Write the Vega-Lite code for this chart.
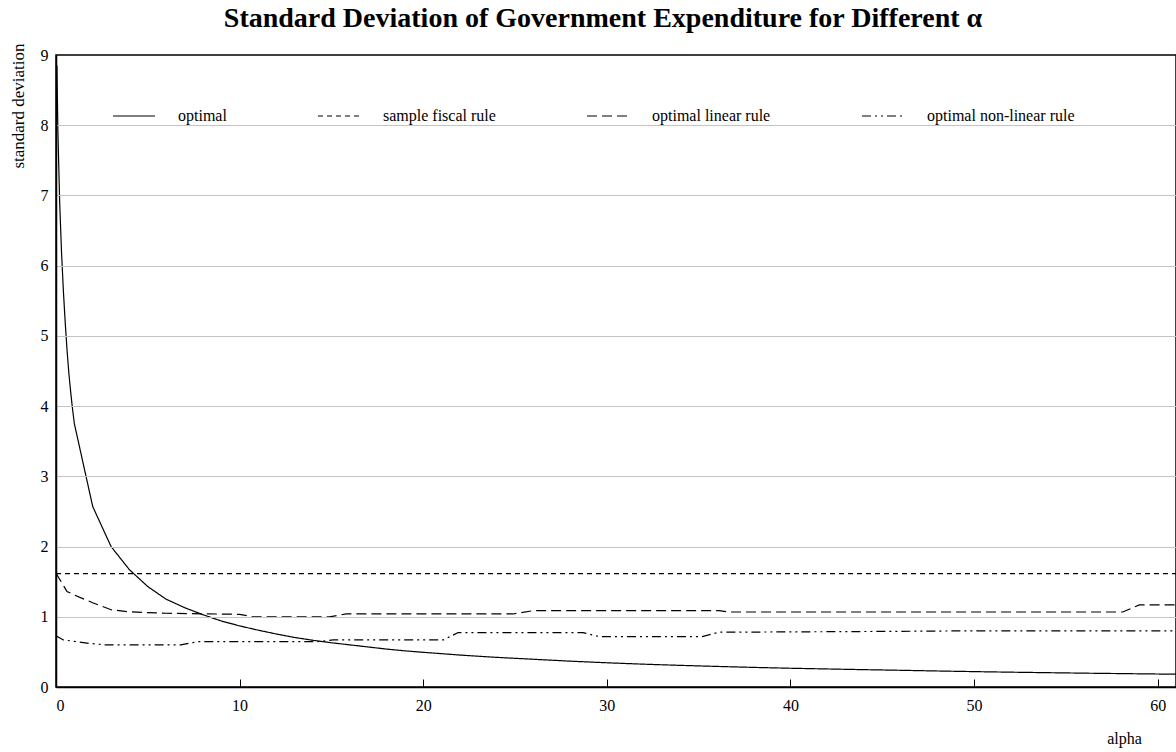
{
  "$schema": "https://vega.github.io/schema/vega-lite/v6.json",
  "width": 1120,
  "height": 632,
  "autosize": {"type": "none"},
  "padding": {"left": 56, "top": 55, "right": 0, "bottom": 65},
  "background": "white",
  "config": {
    "font": "Liberation Serif",
    "view": {"stroke": "black", "strokeWidth": 1.5},
    "axis": {"labelFont": "Liberation Serif", "titleFont": "Liberation Serif", "labelColor": "black", "titleColor": "black", "titleFontWeight": "normal"}
  },
  "title": {
    "text": "Standard Deviation of Government Expenditure for Different α",
    "font": "Liberation Serif",
    "fontSize": 28,
    "fontWeight": "bold",
    "color": "black",
    "frame": "group",
    "anchor": "middle",
    "dx": -13,
    "offset": 10
  },
  "data": {
    "values": [
      {"alpha": 0.05, "series": "optimal", "sd": 8.85},
      {"alpha": 0.1, "series": "optimal", "sd": 7.95},
      {"alpha": 0.2, "series": "optimal", "sd": 6.9},
      {"alpha": 0.3, "series": "optimal", "sd": 6.2},
      {"alpha": 0.4, "series": "optimal", "sd": 5.65},
      {"alpha": 0.5, "series": "optimal", "sd": 5.2},
      {"alpha": 0.6, "series": "optimal", "sd": 4.8},
      {"alpha": 0.7, "series": "optimal", "sd": 4.47},
      {"alpha": 0.8, "series": "optimal", "sd": 4.2},
      {"alpha": 0.9, "series": "optimal", "sd": 3.96},
      {"alpha": 1, "series": "optimal", "sd": 3.75},
      {"alpha": 2, "series": "optimal", "sd": 2.57},
      {"alpha": 3, "series": "optimal", "sd": 2.0},
      {"alpha": 4, "series": "optimal", "sd": 1.67},
      {"alpha": 5, "series": "optimal", "sd": 1.43},
      {"alpha": 6, "series": "optimal", "sd": 1.25},
      {"alpha": 7, "series": "optimal", "sd": 1.13},
      {"alpha": 8, "series": "optimal", "sd": 1.03},
      {"alpha": 9, "series": "optimal", "sd": 0.94},
      {"alpha": 10, "series": "optimal", "sd": 0.87},
      {"alpha": 11, "series": "optimal", "sd": 0.81},
      {"alpha": 12, "series": "optimal", "sd": 0.755},
      {"alpha": 13, "series": "optimal", "sd": 0.705},
      {"alpha": 14, "series": "optimal", "sd": 0.665},
      {"alpha": 15, "series": "optimal", "sd": 0.63},
      {"alpha": 16, "series": "optimal", "sd": 0.6},
      {"alpha": 17, "series": "optimal", "sd": 0.57},
      {"alpha": 18, "series": "optimal", "sd": 0.54},
      {"alpha": 19, "series": "optimal", "sd": 0.515},
      {"alpha": 20, "series": "optimal", "sd": 0.494},
      {"alpha": 22, "series": "optimal", "sd": 0.455},
      {"alpha": 24, "series": "optimal", "sd": 0.422},
      {"alpha": 26, "series": "optimal", "sd": 0.395},
      {"alpha": 28, "series": "optimal", "sd": 0.368},
      {"alpha": 30, "series": "optimal", "sd": 0.345},
      {"alpha": 32, "series": "optimal", "sd": 0.325},
      {"alpha": 34, "series": "optimal", "sd": 0.308},
      {"alpha": 36, "series": "optimal", "sd": 0.293},
      {"alpha": 38, "series": "optimal", "sd": 0.279},
      {"alpha": 40, "series": "optimal", "sd": 0.267},
      {"alpha": 42, "series": "optimal", "sd": 0.257},
      {"alpha": 44, "series": "optimal", "sd": 0.247},
      {"alpha": 46, "series": "optimal", "sd": 0.238},
      {"alpha": 48, "series": "optimal", "sd": 0.228},
      {"alpha": 50, "series": "optimal", "sd": 0.219},
      {"alpha": 52, "series": "optimal", "sd": 0.211},
      {"alpha": 54, "series": "optimal", "sd": 0.204},
      {"alpha": 56, "series": "optimal", "sd": 0.197},
      {"alpha": 58, "series": "optimal", "sd": 0.191},
      {"alpha": 60, "series": "optimal", "sd": 0.185},
      {"alpha": 61, "series": "optimal", "sd": 0.182},

      {"alpha": 0, "series": "sample fiscal rule", "sd": 1.615},
      {"alpha": 61, "series": "sample fiscal rule", "sd": 1.615},

      {"alpha": 0, "series": "optimal linear rule", "sd": 1.62},
      {"alpha": 0.6, "series": "optimal linear rule", "sd": 1.36},
      {"alpha": 1, "series": "optimal linear rule", "sd": 1.31},
      {"alpha": 2, "series": "optimal linear rule", "sd": 1.2},
      {"alpha": 3, "series": "optimal linear rule", "sd": 1.1},
      {"alpha": 4, "series": "optimal linear rule", "sd": 1.07},
      {"alpha": 6, "series": "optimal linear rule", "sd": 1.05},
      {"alpha": 10, "series": "optimal linear rule", "sd": 1.035},
      {"alpha": 10.7, "series": "optimal linear rule", "sd": 1.0},
      {"alpha": 14.9, "series": "optimal linear rule", "sd": 1.0},
      {"alpha": 15.8, "series": "optimal linear rule", "sd": 1.04},
      {"alpha": 24.9, "series": "optimal linear rule", "sd": 1.04},
      {"alpha": 26, "series": "optimal linear rule", "sd": 1.087},
      {"alpha": 36.1, "series": "optimal linear rule", "sd": 1.087},
      {"alpha": 36.7, "series": "optimal linear rule", "sd": 1.068},
      {"alpha": 58.1, "series": "optimal linear rule", "sd": 1.068},
      {"alpha": 59, "series": "optimal linear rule", "sd": 1.17},
      {"alpha": 61, "series": "optimal linear rule", "sd": 1.17},

      {"alpha": 0, "series": "optimal non-linear rule", "sd": 0.73},
      {"alpha": 0.4, "series": "optimal non-linear rule", "sd": 0.67},
      {"alpha": 1, "series": "optimal non-linear rule", "sd": 0.65},
      {"alpha": 1.85, "series": "optimal non-linear rule", "sd": 0.62},
      {"alpha": 2.7, "series": "optimal non-linear rule", "sd": 0.6},
      {"alpha": 6.8, "series": "optimal non-linear rule", "sd": 0.6},
      {"alpha": 7.7, "series": "optimal non-linear rule", "sd": 0.645},
      {"alpha": 14.2, "series": "optimal non-linear rule", "sd": 0.645},
      {"alpha": 15.1, "series": "optimal non-linear rule", "sd": 0.67},
      {"alpha": 21.1, "series": "optimal non-linear rule", "sd": 0.67},
      {"alpha": 21.9, "series": "optimal non-linear rule", "sd": 0.775},
      {"alpha": 28.7, "series": "optimal non-linear rule", "sd": 0.775},
      {"alpha": 29.6, "series": "optimal non-linear rule", "sd": 0.717},
      {"alpha": 35.2, "series": "optimal non-linear rule", "sd": 0.717},
      {"alpha": 36.1, "series": "optimal non-linear rule", "sd": 0.78},
      {"alpha": 44, "series": "optimal non-linear rule", "sd": 0.79},
      {"alpha": 50, "series": "optimal non-linear rule", "sd": 0.8},
      {"alpha": 61, "series": "optimal non-linear rule", "sd": 0.8}
    ]
  },
  "mark": {"type": "line", "color": "black", "strokeWidth": 1.2, "clip": true},
  "encoding": {
    "x": {
      "field": "alpha",
      "type": "quantitative",
      "scale": {"domain": [0, 61], "nice": false, "zero": false},
      "axis": {
        "title": "alpha",
        "values": [0, 10, 20, 30, 40, 50, 60],
        "grid": false,
        "tickSize": -8,
        "tickColor": "black",
        "tickWidth": 1,
        "domainColor": "black",
        "domainWidth": 1.5,
        "labelFontSize": 16,
        "labelPadding": 18,
        "titleFontSize": 16,
        "titleX": 1068,
        "titleY": 51,
        "titleAlign": "center",
        "titleBaseline": "middle"
      }
    },
    "y": {
      "field": "sd",
      "type": "quantitative",
      "scale": {"domain": [0, 9], "nice": false},
      "axis": {
        "title": "standard deviation",
        "values": [0, 1, 2, 3, 4, 5, 6, 7, 8, 9],
        "ticks": false,
        "grid": true,
        "gridColor": "#c4c4c4",
        "gridWidth": 1,
        "gridOpacity": {"condition": {"test": "datum.value == 0 || datum.value == 9", "value": 0}, "value": 1},
        "domainColor": "black",
        "domainWidth": 1.5,
        "labelFontSize": 16,
        "labelPadding": 8,
        "titleFontSize": 17,
        "titleAngle": -90,
        "titleX": -38,
        "titleY": -12,
        "titleAlign": "right",
        "titleBaseline": "middle",
        "zindex": 1
      }
    },
    "strokeDash": {
      "field": "series",
      "type": "nominal",
      "scale": {
        "domain": ["optimal", "sample fiscal rule", "optimal linear rule", "optimal non-linear rule"],
        "range": [[1, 0], [5, 4], [10, 5], [9, 4, 2, 4, 2, 4]]
      },
      "legend": {
        "title": null,
        "orient": "none",
        "legendX": 56,
        "legendY": 39,
        "direction": "horizontal",
        "columns": 4,
        "padding": 0,
        "symbolType": "stroke",
        "symbolSize": 1764,
        "symbolStrokeColor": "black",
        "symbolStrokeWidth": 1.2,
        "labelOffset": 22,
        "columnPadding": 88,
        "labelFontSize": 16,
        "labelFont": "Liberation Serif",
        "labelColor": "black",
        "labelLimit": 300
      }
    }
  }
}
